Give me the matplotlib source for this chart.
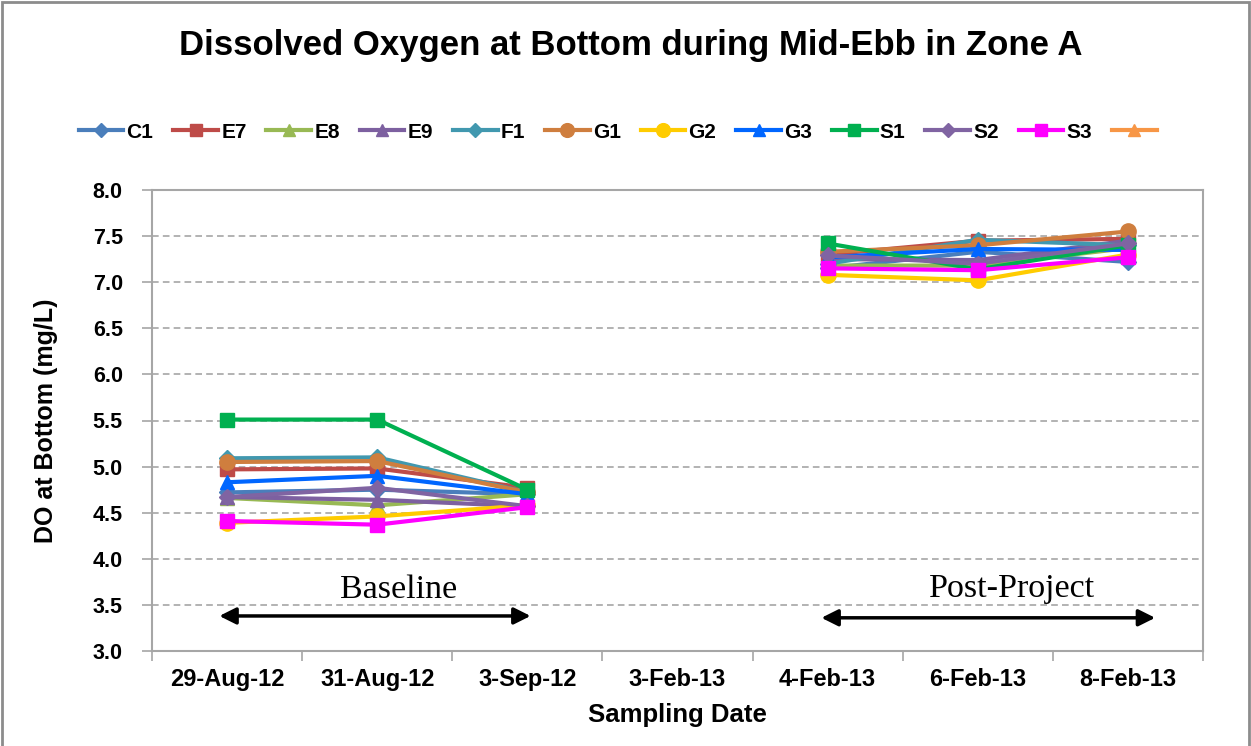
import numpy as np
import matplotlib
matplotlib.use("Agg")
import matplotlib.pyplot as plt
from matplotlib.lines import Line2D
from matplotlib.patches import Rectangle

# ── данные ──────────────────────────────────────────────────────────────────
dates = ["29-Aug-12", "31-Aug-12", "3-Sep-12", "3-Feb-13",
         "4-Feb-13", "6-Feb-13", "8-Feb-13"]
nan = np.nan

C1 = [4.72, 4.75, 4.70, nan, 7.15, 7.33, 7.22]
E7 = [4.97, 4.98, 4.77, nan, 7.30, 7.45, 7.47]
E8 = [4.66, 4.58, 4.70, nan, 7.18, 7.18, 7.37]
E9 = [4.67, 4.64, 4.57, nan, 7.25, 7.24, 7.45]
F1 = [5.09, 5.10, 4.72, nan, 7.20, 7.46, 7.40]
G1 = [5.05, 5.06, 4.72, nan, 7.33, 7.40, 7.55]
G2 = [4.39, 4.46, 4.58, nan, 7.08, 7.02, 7.30]
G3 = [4.83, 4.90, 4.70, nan, 7.27, 7.36, 7.35]
S1 = [5.51, 5.51, 4.75, nan, 7.42, 7.14, 7.40]
S2 = [4.67, 4.77, 4.57, nan, 7.29, 7.20, 7.42]
S3 = [4.41, 4.37, 4.56, nan, 7.15, 7.13, 7.27]
EMPTY = [nan] * 7   # 12-я серия без подписи и без данных

series = [
    ("C1", C1, "#4A7EBB", "D", 8),
    ("E7", E7, "#BE4B48", "s", 10),
    ("E8", E8, "#98B954", "^", 10),
    ("E9", E9, "#7D60A0", "^", 10),
    ("F1", F1, "#4198AF", "D", 8),
    ("G1", G1, "#CF7E3E", "o", 11),
    ("G2", G2, "#FFCC00", "o", 11),
    ("G3", G3, "#0066FF", "^", 10),
    ("S1", S1, "#00B050", "s", 10),
    ("S2", S2, "#8064A2", "D", 8),
    ("S3", S3, "#FF00FF", "s", 10),
    ("", EMPTY, "#F79646", "^", 10),
]

GRID = "#A6A6A6"
FONT = "Liberation Sans"
W, H = 1251, 746

# ── фигура ──────────────────────────────────────────────────────────────────
fig = plt.figure(figsize=(W / 100, H / 100), dpi=100, facecolor="white")
ax = fig.add_axes([152 / W, 1 - 651 / H, (1203 - 152) / W, (651 - 190) / H])

x = np.arange(len(dates))
handles, labels = [], []
for name, vals, col, mk, ms in series:
    ax.plot(x, vals, color=col, marker=mk, markersize=ms, linewidth=3,
            markeredgecolor=col, zorder=3)
    handles.append(Line2D([], [], color=col, marker=mk, markersize=ms * 0.9,
                          linewidth=3, markeredgecolor=col))
    labels.append(name)

ax.set_xlim(-0.5, len(dates) - 0.5)
ax.set_ylim(3.0, 8.0)

# оси / сетка
yt = np.arange(3.0, 8.01, 0.5)
ax.set_yticks(yt)
ax.set_yticklabels([f"{v:.1f}" for v in yt],
                   fontfamily=FONT, fontweight="bold", fontsize=15.5)
ax.yaxis.grid(True, linestyle=(0, (4, 2.5)), color=GRID, linewidth=1.2)
ax.tick_params(axis="y", length=7, color=GRID, width=1.2, pad=14)

ax.set_xticks(np.arange(-0.5, len(dates), 1.0))
ax.set_xticklabels([])
ax.set_xticks(x, minor=True)
ax.set_xticklabels(dates, minor=True, fontfamily=FONT, fontweight="bold", fontsize=17)
ax.tick_params(axis="x", which="major", length=7, color=GRID, width=1.2)
ax.tick_params(axis="x", which="minor", length=0, pad=12)

for sp in ax.spines.values():
    sp.set_color(GRID)
    sp.set_linewidth(1.5)

ax.set_ylabel("DO at Bottom (mg/L)", fontfamily=FONT, fontweight="bold", fontsize=18)
ax.yaxis.set_label_coords(-0.089, 0.5)
ax.set_xlabel("Sampling Date", fontfamily=FONT, fontweight="bold", fontsize=18.5)
ax.xaxis.set_label_coords(0.5, -0.112)

# стрелки периодов
arrow = dict(arrowstyle="<|-|>", color="black", lw=2.5, mutation_scale=25)
ax.annotate("", xy=(-0.07, 3.38), xytext=(2.04, 3.38), arrowprops=arrow)
ax.annotate("", xy=(3.94, 3.36), xytext=(6.2, 3.36), arrowprops=arrow)
ax.text(1.14, 3.575, "Baseline", ha="center", va="baseline",
        fontfamily="Liberation Serif", fontsize=24.5)
ax.text(5.23, 3.585, "Post-Project", ha="center", va="baseline",
        fontfamily="Liberation Serif", fontsize=24.5)

# заголовок и легенда
fig.text(0.504, 1 - 55 / H, "Dissolved Oxygen at Bottom during Mid-Ebb in Zone A",
         ha="center", va="baseline", fontfamily=FONT, fontweight="bold", fontsize=25)

fig.legend(handles, labels, loc="center", bbox_to_anchor=(0.495, 1 - 132 / H),
           ncol=12, frameon=False, handlelength=2.15, handletextpad=0.15,
           columnspacing=0.95, prop=dict(family=FONT, weight="bold", size=15))

# рамка вокруг всей диаграммы
fig.patches.append(Rectangle((2 / W, -0.01), (W - 4) / W, 1.01 - 2 / H,
                             transform=fig.transFigure, fill=False,
                             edgecolor="#8C8C8C", linewidth=2))

plt.savefig("out.png", dpi=100, facecolor="white")
